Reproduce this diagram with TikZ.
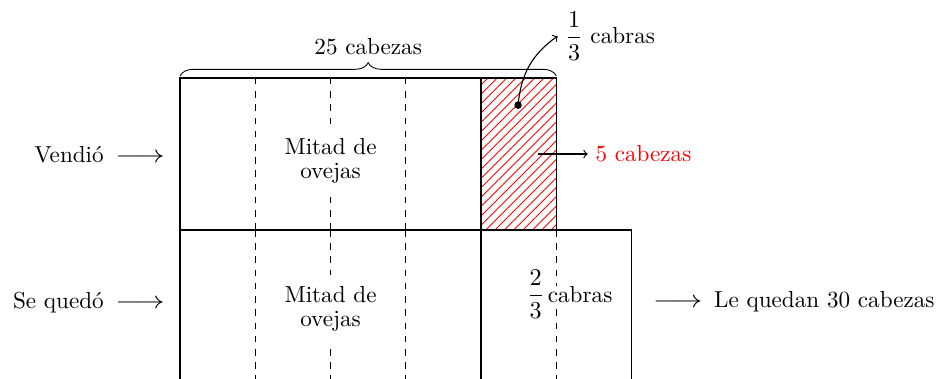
\documentclass[tikz,border=0pt]{standalone}
\usepackage{amsmath}
\usepackage{graphicx}
\usepackage{xcolor}
\usepackage{tikz}
\usetikzlibrary{patterns.meta}
\usetikzlibrary{decorations.pathreplacing}
\newcommand{\flecha}{\scalebox{1.27}[1]{$\longrightarrow$}}
\tikzset{
    txt/.style={font=\fontsize{10.5}{11}\selectfont},
    mitad/.style={txt, align=center, fill=white, inner sep=5pt},
    part/.style={line width=0.7pt},
    split/.style={line width=0.5pt, dashed},
}

\begin{document}
\begin{tikzpicture}
    \useasboundingbox (-2.87,-2.375) rectangle (12.10,3.666);
    % Sold part
    \fill[pattern={Lines[angle=45, distance=3pt, line width=0.4pt]}, pattern color=red]
        (4.8,0) rectangle (6.0,2.42);
    \draw[part] (0,0) rectangle (6.0,2.42);
    \draw[part] (4.8,0) -- (4.8,2.42);
    \foreach \x in {1.2,2.4,3.6}
        \draw[split] (\x,0) -- (\x,2.42);
    % Kept part
    \draw[part] (0,-2.375) -- (0,0) -- (7.2,0) -- (7.2,-2.375);
    \draw[part] (4.8,-2.375) -- (4.8,0);
    \foreach \x in {1.2,2.4,3.6,6.0}
        \draw[split] (\x,0) -- (\x,-2.375);
    % Brace
    \draw[decorate, decoration={brace, amplitude=6pt, raise=1pt}] (0,2.42) -- (6.0,2.42)
        node[midway, above=7pt, txt] (total) {25 cabezas};
    % Texts
    \node[mitad] (ovtop) at (2.4,1.10) {Mitad de\\ovejas};
    \node[mitad] (ovbot) at (2.4,-1.26) {Mitad de\\ovejas};
    \node[txt] (twothirds) at (5.67,-1.02) {$\dfrac{2}{3}$};
    \node[txt, fill=white, inner sep=0.5pt, anchor=base west] (goats) at (5.84,-1.16) {cabras};
    \node[txt, anchor=east] (sold) at (-0.12,1.20) {Vendi\'o\enspace\flecha};
    \node[txt, anchor=east] (kept) at (-0.12,-1.16) {Se qued\'o\enspace\flecha};
    \node[txt, anchor=west] (left) at (7.42,-1.15) {\flecha\enspace Le quedan 30 cabezas};
    \node[txt, anchor=west] (third) at (6.02,3.09) {$\dfrac{1}{3}$ cabras};
    \node[txt, anchor=west, text=red] (five) at (6.5,1.21) {5 cabezas};
    % Arrows
    \fill (5.39,1.99) circle (1.7pt) coordinate (dot);
    \draw[->, line width=0.5pt] (dot) to[out=85, in=215] (third.west);
    \coordinate (fivestart) at (5.71,1.21);
    \draw[->, line width=0.5pt] (fivestart) -- (five.west);
\end{tikzpicture}
\end{document}
